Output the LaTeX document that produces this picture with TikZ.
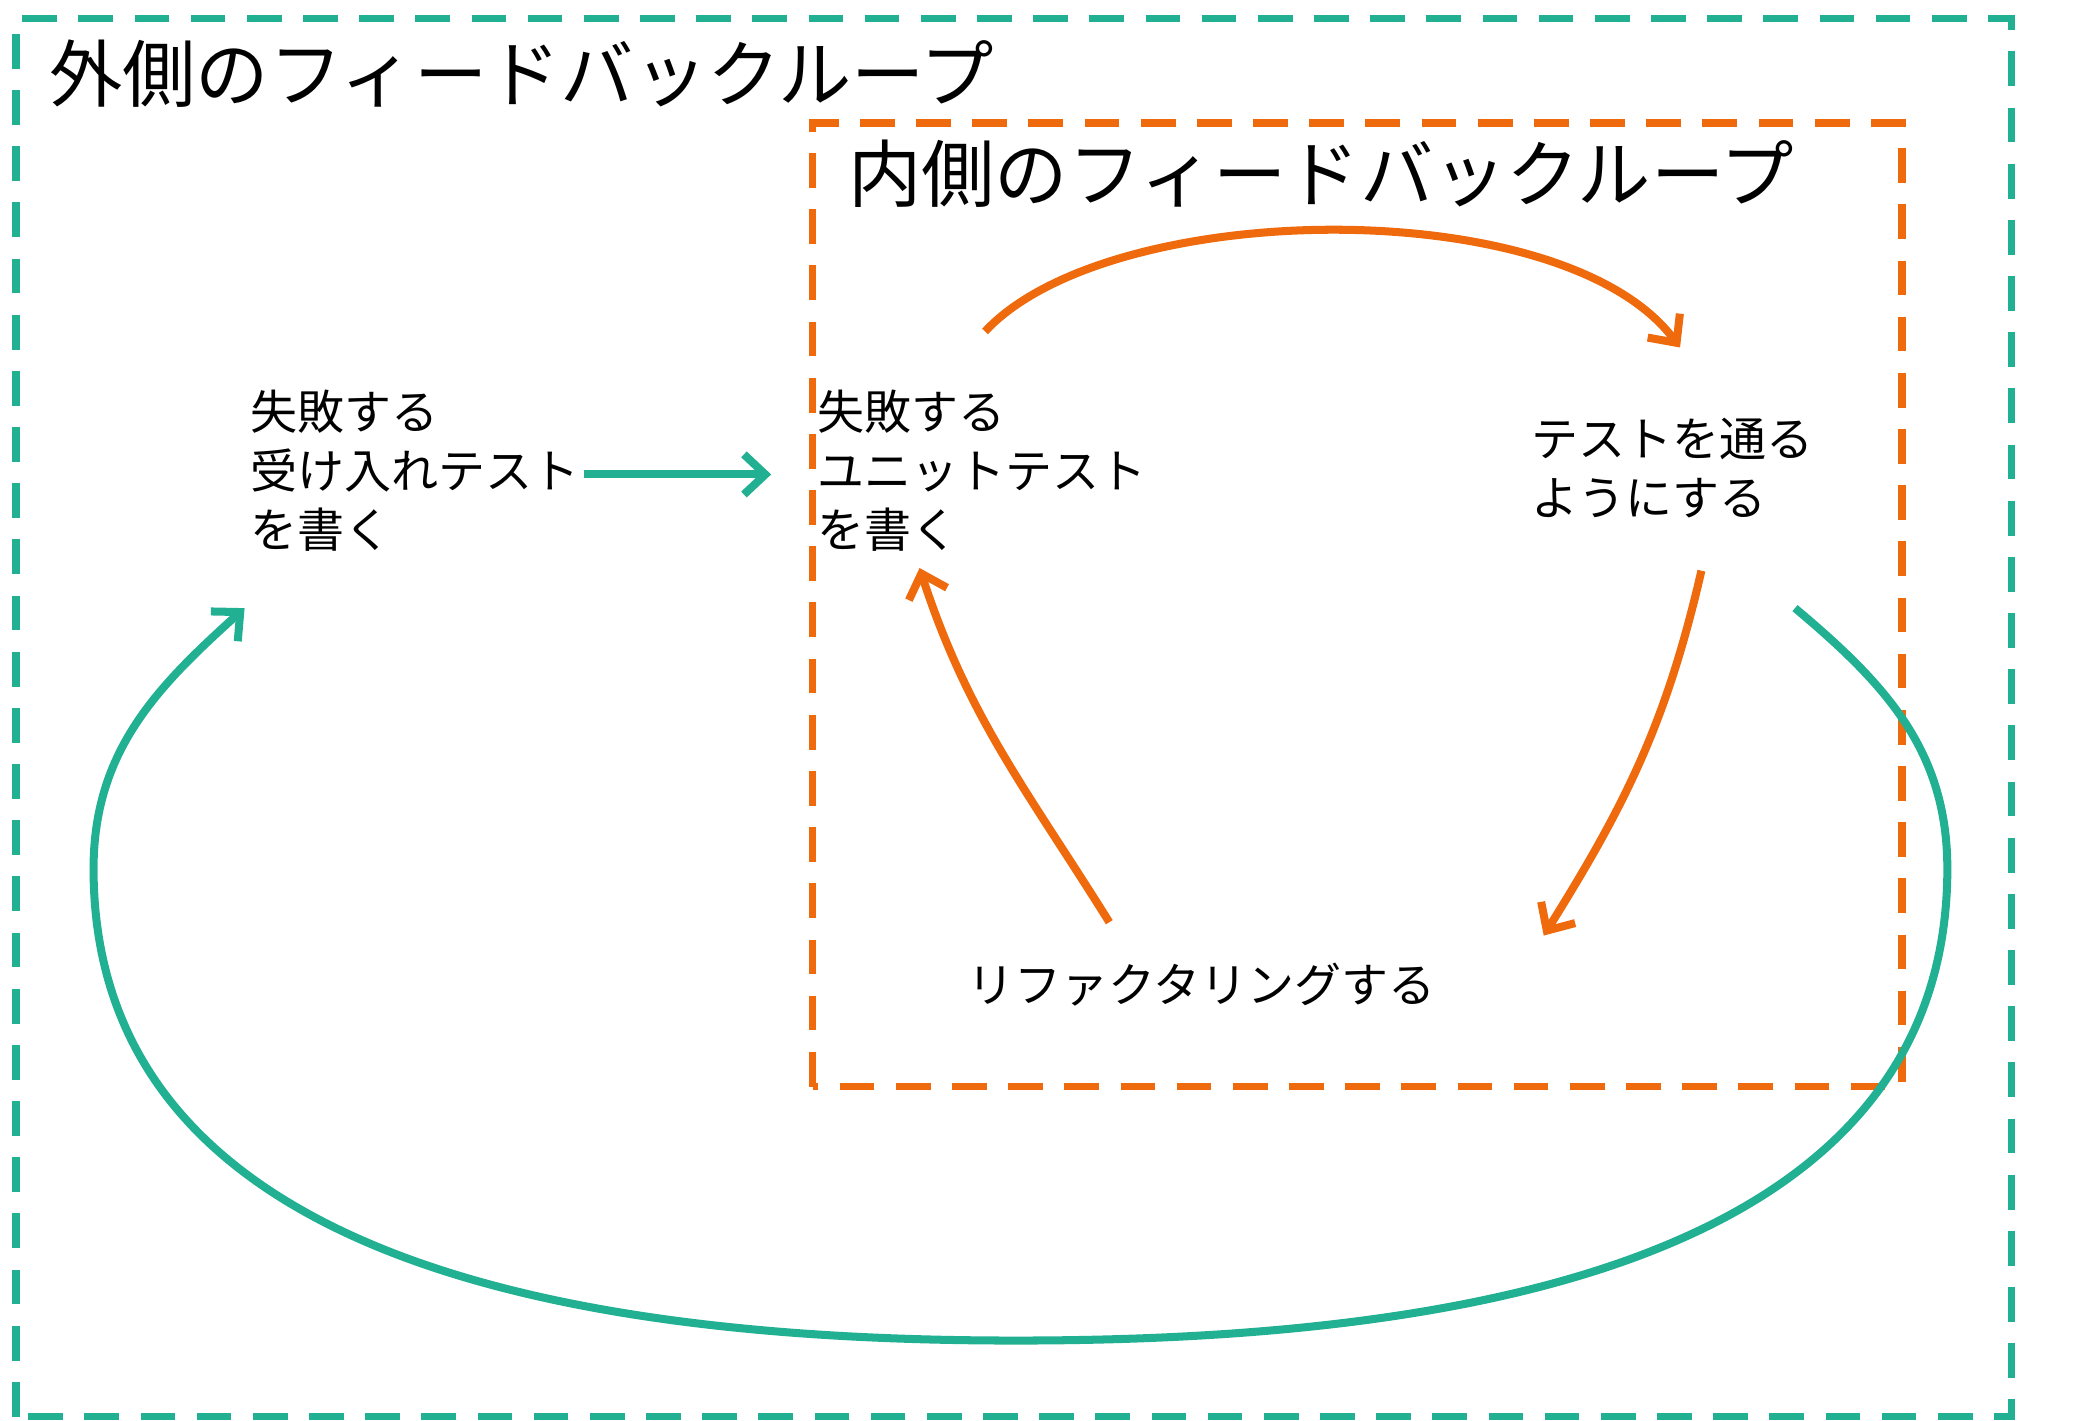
\documentclass[tikz,border=0pt]{standalone}
\usepackage{fontspec}
\setmainfont{Noto Sans CJK JP}
\usetikzlibrary{arrows.meta}
\definecolor{gr}{HTML}{22B093}
\definecolor{og}{HTML}{EE6A0C}
\tikzset{
  box/.style={line width=0.055cm, dash pattern=on 0.26cm off 0.16cm},
  arr/.style={line width=0.06cm, -{Straight Barb[length=0.16cm,width=0.3cm,line width=0.06cm]}},
  ttl/.style={anchor=west, font=\fontsize{15.6pt}{18pt}\selectfont, inner sep=0},
  lbl/.style={anchor=west, align=left, font=\fontsize{10pt}{12.6pt}\selectfont, inner sep=0},
}
\begin{document}
\begin{tikzpicture}[x=0.01cm,y=0.01cm]
\useasboundingbox (0,0) rectangle (1560,1063);
\draw[box,gr] (12,3) rectangle (1505,1049);
\draw[box,og] (608,250) rectangle (1423,971);
\node[ttl] (t1) at (36,1008) {外側のフィードバックループ};
\node[ttl] (t2) at (634,933) {内側のフィードバックループ};
\node[lbl] (a) at (187,711) {失敗する\\受け入れテスト\\を書く};
\node[lbl] (b) at (611,711) {失敗する\\ユニットテスト\\を書く};
\node[lbl] (c) at (1145,713) {テストを通る\\ようにする};
\node[lbl] (d) at (723,326) {リファクタリングする};
\coordinate (a1) at (437,708); \coordinate (b1) at (577,708);
\draw[arr,gr] (a1) -- (b1);
\coordinate (o1) at (737,815); \coordinate (o2) at (1257,803);
\draw[arr,og] (o1) .. controls (830,915) and (1170,920) .. (o2);
\coordinate (o3) at (1273,636); \coordinate (o4) at (1155,363);
\draw[arr,og] (o3) to[out=-103,in=58] (o4);
\coordinate (o5) at (830,373); \coordinate (o6) at (688,638);
\draw[arr,og] (o5) to[out=122,in=-72] (o6);
\coordinate (g1) at (1343,608); \coordinate (g2) at (183,608);
\draw[arr,gr] (g1) to[out=-40,in=90] (1457,413) to[out=-90,in=0] (760,60) to[out=180,in=-90] (70,413) to[out=90,in=-138] (g2);
\end{tikzpicture}
\end{document}
